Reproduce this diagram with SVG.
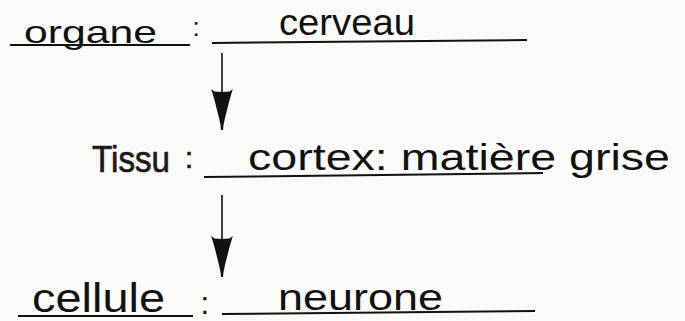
<svg xmlns="http://www.w3.org/2000/svg" width="685" height="321" viewBox="0 0 685 321">
  <style>
    .hand { font-family: "Liberation Sans", "DejaVu Sans", sans-serif; fill: #111; }
    .print { font-family: "Liberation Sans", "DejaVu Sans", sans-serif; fill: #1a1a1a; stroke: #1a1a1a; stroke-width: 0.7; }
    .rule { stroke: #111; stroke-width: 2; fill: none; }
    .conn { stroke: #111; stroke-width: 1.6; fill: none; }
  </style>
  <defs>
    <marker id="head" markerUnits="userSpaceOnUse" orient="auto" refX="0" refY="0" markerWidth="44" markerHeight="24" overflow="visible">
      <path d="M-41,-10.8 L-38.5,-7.5 L-38,0 L-38.5,7.5 L-41,10.8 L-30,7.5 L-20,5 L-12,3 L-5,1.5 L0,1 L0,-1 L-5,-1.5 L-12,-3 L-20,-5 L-30,-7.5 Z" fill="#111"/>
    </marker>
  </defs>
  <rect x="0" y="0" width="685" height="321" fill="#fafaf8"/>

  <g id="organe">
    <text class="hand" x="24" y="43" font-size="32" textLength="133" lengthAdjust="spacingAndGlyphs">organe</text>
    <line class="rule" x1="10" y1="45" x2="190" y2="45"/>
    <text class="hand" x="192.5" y="35.5" font-size="26">:</text>
    <text class="hand" x="279" y="35" font-size="36" textLength="136" lengthAdjust="spacingAndGlyphs">cerveau</text>
    <line class="rule" x1="212" y1="43" x2="527" y2="40"/>
  </g>

  <g id="tissu">
    <text class="print" x="92" y="172" font-size="37" textLength="78" lengthAdjust="spacingAndGlyphs">Tissu</text>
    <text class="print" x="185" y="168" font-size="29">:</text>
    <text class="hand" x="248" y="170" font-size="36" textLength="422" lengthAdjust="spacingAndGlyphs">cortex: matière grise</text>
    <line class="rule" x1="204" y1="177" x2="543" y2="173"/>
  </g>

  <g id="cellule">
    <text class="hand" x="32" y="312" font-size="40" textLength="133" lengthAdjust="spacingAndGlyphs">cellule</text>
    <line class="rule" x1="18" y1="316" x2="193" y2="316"/>
    <text class="hand" x="200.5" y="314" font-size="31">:</text>
    <text class="hand" x="278" y="310" font-size="37" textLength="165" lengthAdjust="spacingAndGlyphs">neurone</text>
    <line class="rule" x1="222" y1="314" x2="535" y2="311"/>
  </g>

  <g id="connectors">
    <line class="conn" x1="222" y1="53" x2="222" y2="130" marker-end="url(#head)"/>
    <line class="conn" x1="222" y1="195" x2="222" y2="277" marker-end="url(#head)"/>
  </g>
</svg>
